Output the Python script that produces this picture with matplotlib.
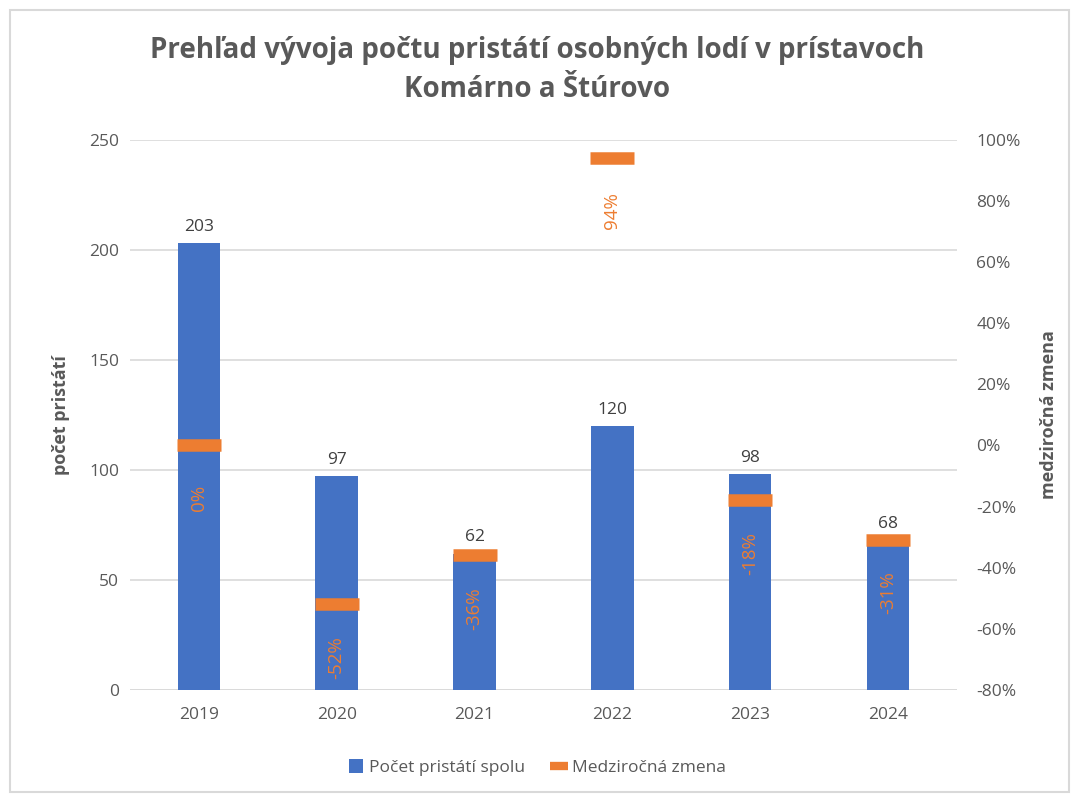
import matplotlib.pyplot as plt
from matplotlib.patches import Rectangle
from matplotlib.lines import Line2D
from matplotlib.patches import Patch

years = ["2019", "2020", "2021", "2022", "2023", "2024"]
landings = [203, 97, 62, 120, 98, 68]
yoy_change = [0, -52, -36, 94, -18, -31]

blue = "#4472C4"
orange = "#ED7D31"
gray = "#595959"

plt.rcParams["font.family"] = ["Open Sans", "DejaVu Sans"]

fig = plt.figure(figsize=(10.75, 7.94), dpi=100)
ax = fig.add_axes([0.121, 0.131, 0.769, 0.693])
ax2 = ax.twinx()

x = list(range(len(years)))
ax.bar(x, landings, width=0.31, color=blue, zorder=2)
ax.set_xlim(-0.5, len(years) - 0.5)
ax.set_ylim(0, 250)
ax.set_yticks(range(0, 251, 50))
ax.grid(axis="y", color="#D9D9D9", linewidth=1.2, zorder=0)
ax.set_axisbelow(True)
for s in ["top", "right", "left", "bottom"]:
    ax.spines[s].set_visible(False)
    ax2.spines[s].set_visible(False)
ax.axhline(0, color="#D9D9D9", linewidth=1.2, zorder=1)
ax.set_xticks(x)
ax.set_xticklabels(years)
ax.tick_params(axis="both", length=0, labelsize=12.5, labelcolor=gray, pad=8)
ax.tick_params(axis="x", pad=12)
ax.set_ylabel("počet pristátí", fontsize=13, fontweight="bold", color=gray, labelpad=14)

for xi, v in zip(x, landings):
    ax.annotate(str(v), (xi, v), xytext=(0, 6), textcoords="offset points",
                ha="center", va="bottom", fontsize=12.5, color="#404040")

ax2.set_ylim(-80, 100)
ax2.set_yticks(range(-80, 101, 20))
ax2.set_yticklabels([f"{t}%" for t in range(-80, 101, 20)])
ax2.tick_params(axis="y", length=0, labelsize=12.5, labelcolor=gray, pad=14)
ax2.plot(x, yoy_change, linestyle="none", marker="_", markersize=32,
         markeredgewidth=9, color=orange, zorder=3)
ax2.set_ylabel("medziročná zmena", fontsize=13, fontweight="bold", color=gray,
               rotation=90, labelpad=14)

for xi, v in zip(x, yoy_change):
    ax2.annotate(f"{v}%", (xi, v), xytext=(0, -38), textcoords="offset points",
                 ha="center", va="center", rotation=90, fontsize=13.5, color=orange)

fig.text(0.5, 0.912, "Prehľad vývoja počtu pristátí osobných lodí v prístavoch\nKomárno a Štúrovo",
         ha="center", va="center", fontsize=20, fontweight="bold", color=gray,
         linespacing=1.45)

handles = [Patch(facecolor=blue),
           Line2D([], [], linestyle="none", marker="_", markersize=13,
                  markeredgewidth=6, color=orange)]
fig.legend(handles, ["Počet pristátí spolu", "Medziročná zmena"], loc="center",
           bbox_to_anchor=(0.5, 0.033), ncol=2, frameon=False, fontsize=12.5,
           labelcolor=gray, handlelength=0.8, handleheight=0.8,
           handletextpad=0.4, columnspacing=1.5)

fig.patches.append(Rectangle((0.009, 0.003), 0.985, 0.985, transform=fig.transFigure,
                             fill=False, edgecolor="#D9D9D9", linewidth=1.5))

fig.savefig("out.png", dpi=100, facecolor="white")
